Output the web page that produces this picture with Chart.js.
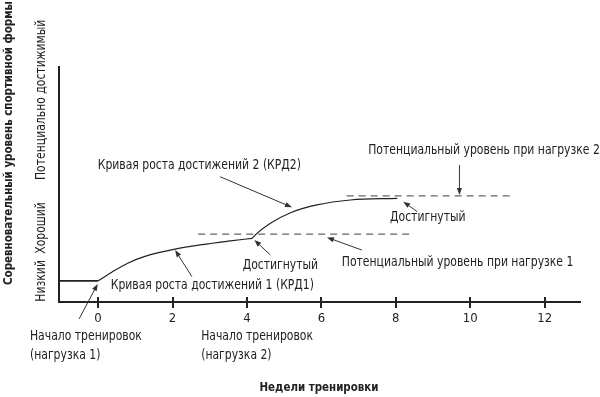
<!DOCTYPE html>
<html>
<head>
<meta charset="utf-8">
<script src="https://cdn.jsdelivr.net/npm/chart.js@4.4.1/dist/chart.umd.min.js"></script>
<style>
html,body{margin:0;padding:0;background:#fff;}
#wrap{width:600px;height:397px;}
</style>
</head>
<body>
<div id="wrap"><canvas id="c" width="600" height="397"></canvas></div>
<script>
// ---- data ----
const xTicks = [0, 2, 4, 6, 8, 10, 12];
const baseWeeks = [-1.05, 0];
const baseLevel = [9, 9];
const weeks1 = [0, 0.37, 0.81, 1.26, 2.07, 2.79, 3.5, 4.14];
const level1 = [9, 12.7, 16.6, 19.4, 22.5, 24.4, 25.9, 27.1];
const weeks2 = [4.14, 4.27, 4.63, 5.17, 5.88, 6.78, 8.04];
const level2 = [27.1, 29.2, 33.5, 38, 41.3, 43.4, 44.1];
const potential1Weeks = [2.69, 8.45];
const potential1Level = [28.9, 28.9];
const potential2Weeks = [6.68, 11.16];
const potential2Level = [45.2, 45.2];
const yLevelLabels = ['Низкий', 'Хороший', 'Потенциально достижимый'];
const yLevelValues = [9, 31.5, 86];
const xTitle = 'Недели тренировки';
const yTitle = 'Соревновательный уровень спортивной формы';

// annotation texts
const labelTexts = ['Кривая роста достижений 2 (КРД2)', 'Потенциальный уровень при нагрузке 2', 'Достигнутый', 'Достигнутый', 'Потенциальный уровень при нагрузке 1', 'Кривая роста достижений 1 (КРД1)', 'Начало тренировок', '(нагрузка 1)', 'Начало тренировок', '(нагрузка 2)'];
const labelWeeks = [2.72, 10.37, 8.86, 4.9, 9.66, 3.07, -1.83, -1.83, 2.77, 2.77];
const labelLevels = [58.3, 64.7, 36.2, 15.7, 17.0, 7.2, -14.5, -22.6, -14.5, -22.6];
const labelAlign = ['center', 'center', 'center', 'center', 'center', 'center', 'left', 'left', 'left', 'left'];

// arrows: tail -> head
const arrowTailWeeks = [-0.51, 2.52, 4.63, 7.09, 8.58, 9.71, 3.28];
const arrowTailLevels = [-7.2, 10.8, 20.0, 22.1, 38.4, 58.3, 53.3];
const arrowHeadWeeks = [-0.01, 2.07, 4.2, 6.15, 8.2, 9.71, 5.21];
const arrowHeadLevels = [7.7, 22.1, 26.4, 27.5, 42.7, 45.5, 40.3];

const FONT = "'DejaVu Sans Condensed', 'DejaVu Sans', sans-serif";
const pts = (xs, ys) => xs.map((x, i) => ({x: x, y: ys[i]}));

function narrowText(ctx, t, x, y, align, sx, rot) {
  ctx.save();
  ctx.translate(x, y);
  if (rot) ctx.rotate(rot);
  ctx.scale(sx, 1);
  ctx.textAlign = align;
  ctx.fillText(t, 0, 0);
  ctx.restore();
}

const annotate = {
  id: 'annotate',
  afterDraw(chart) {
    const ctx = chart.ctx;
    const xs = chart.scales.x, ys = chart.scales.y;
    const area = chart.chartArea;
    ctx.save();
    // tick crosses
    ctx.strokeStyle = '#222';
    ctx.lineWidth = 2;
    xTicks.forEach(t => {
      const px = Math.round(xs.getPixelForValue(t));
      ctx.beginPath();
      ctx.moveTo(px, area.bottom - 5);
      ctx.lineTo(px, area.bottom + 6);
      ctx.stroke();
    });
    // arrows
    ctx.strokeStyle = '#333';
    ctx.fillStyle = '#333';
    ctx.lineWidth = 1;
    arrowTailWeeks.forEach((w, i) => {
      const x1 = xs.getPixelForValue(w), y1 = ys.getPixelForValue(arrowTailLevels[i]);
      const x2 = xs.getPixelForValue(arrowHeadWeeks[i]), y2 = ys.getPixelForValue(arrowHeadLevels[i]);
      const a = Math.atan2(y2 - y1, x2 - x1);
      const L = 7, H = 2.6;
      ctx.beginPath();
      ctx.moveTo(x1, y1);
      ctx.lineTo(x2 - Math.cos(a) * L * 0.7, y2 - Math.sin(a) * L * 0.7);
      ctx.stroke();
      ctx.beginPath();
      ctx.moveTo(x2, y2);
      ctx.lineTo(x2 - Math.cos(a) * L - Math.sin(a) * H, y2 - Math.sin(a) * L + Math.cos(a) * H);
      ctx.lineTo(x2 - Math.cos(a) * L + Math.sin(a) * H, y2 - Math.sin(a) * L - Math.cos(a) * H);
      ctx.closePath();
      ctx.fill();
    });
    // texts
    ctx.fillStyle = '#222';
    ctx.font = '14px ' + FONT;
    ctx.textBaseline = 'middle';
    labelTexts.forEach((t, i) => {
      narrowText(ctx, t, xs.getPixelForValue(labelWeeks[i]), ys.getPixelForValue(labelLevels[i]), labelAlign[i], 0.86, 0);
    });
    // y level labels (rotated)
    yLevelLabels.forEach((t, i) => {
      narrowText(ctx, t, area.left - 18, ys.getPixelForValue(yLevelValues[i]), 'center', 0.86, -Math.PI / 2);
    });
    // titles
    ctx.font = 'bold 13px ' + FONT;
    narrowText(ctx, xTitle, 319, 388, 'center', 0.88, 0);
    narrowText(ctx, yTitle, 9, 143, 'center', 0.88, -Math.PI / 2);
    ctx.restore();
  }
};

const lineStyle = {borderColor: '#222', borderWidth: 1.2, pointRadius: 0, fill: false};
new Chart(document.getElementById('c'), {
  type: 'line',
  data: {
    datasets: [
      Object.assign({data: pts(baseWeeks, baseLevel), tension: 0}, lineStyle, {borderWidth: 1.8}),
      Object.assign({data: pts(weeks1, level1), cubicInterpolationMode: 'monotone'}, lineStyle),
      Object.assign({data: pts(weeks2, level2), cubicInterpolationMode: 'monotone'}, lineStyle),
      Object.assign({data: pts(potential1Weeks, potential1Level)}, lineStyle, {borderColor: '#666', borderDash: [7, 5]}),
      Object.assign({data: pts(potential2Weeks, potential2Level)}, lineStyle, {borderColor: '#666', borderDash: [7, 5]})
    ]
  },
  options: {
    responsive: false,
    animation: false,
    devicePixelRatio: 1,
    layout: {padding: {left: 59, top: 67, right: 20, bottom: 0}},
    plugins: {legend: {display: false}, tooltip: {enabled: false}},
    scales: {
      x: {
        type: 'linear', min: -1.05, max: 12.95,
        afterBuildTicks: s => { s.ticks = xTicks.map(v => ({value: v})); },
        afterFit: s => { s.height = 95; },
        grid: {display: true, drawOnChartArea: false, drawTicks: false},
        border: {display: true, color: '#222', width: 2},
        ticks: {padding: 9, color: '#222', font: {family: FONT, size: 13}, maxRotation: 0}
      },
      y: {
        type: 'linear', min: 0, max: 100,
        afterFit: s => { s.width = 0; },
        grid: {display: true, drawOnChartArea: false, drawTicks: false},
        border: {display: true, color: '#222', width: 2},
        ticks: {display: false}
      }
    }
  },
  plugins: [annotate]
});
</script>
</body>
</html>
